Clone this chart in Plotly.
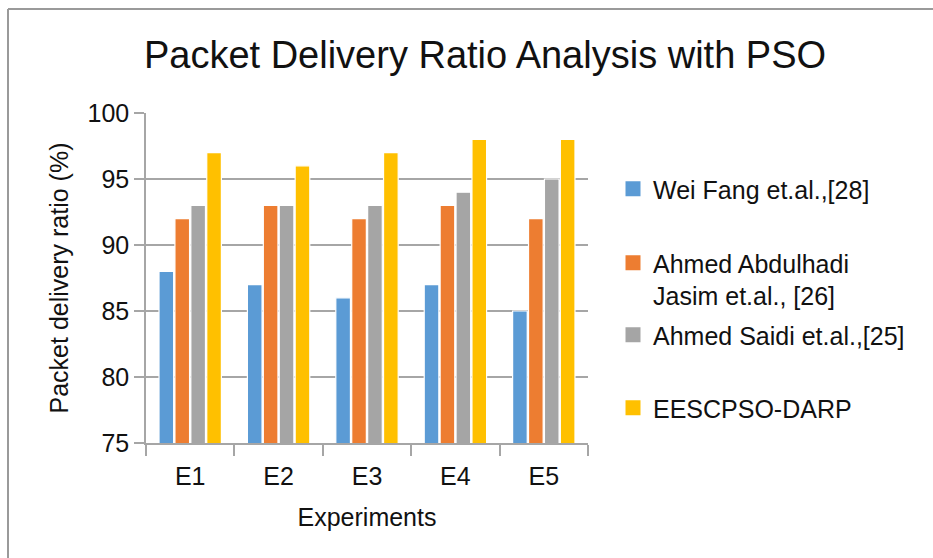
import plotly.graph_objects as go

# Experiment categories and packet delivery ratio (%) per method
experiments = ["E1", "E2", "E3", "E4", "E5"]
wei_fang = [88, 87, 86, 87, 85]
ahmed_abdulhadi = [92, 93, 92, 93, 92]
ahmed_saidi = [93, 93, 93, 94, 95]
eescpso_darp = [97, 96, 97, 98, 98]

series_names = [
    "Wei Fang et.al.,[28]",
    "Ahmed Abdulhadi<br>Jasim et.al., [26]",
    "Ahmed Saidi et.al.,[25]",
    "EESCPSO-DARP",
]
series_values = [wei_fang, ahmed_abdulhadi, ahmed_saidi, eescpso_darp]
series_colors = ["#5B9BD5", "#ED7D31", "#A5A5A5", "#FFC000"]
y_ticks = [75, 80, 85, 90, 95, 100]

W, H = 933, 558
L, R, T, B = 146, 588, 113, 443  # plot-area pixel box
FONT = "Liberation Sans, Arial, Helvetica, sans-serif"
TEXT = "#111111"
GRID = "#A6A6A6"

def px_x(x):
    return (x - L) / (R - L)

def px_y(y):
    return (B - y) / (B - T)

fig = go.Figure()
legend_ids = ["legend", "legend2", "legend3", "legend4"]
legend_centres = [190, 264, 336, 409]

for name, vals, color, lid in zip(series_names, series_values, series_colors, legend_ids):
    fig.add_trace(go.Bar(
        x=experiments, y=vals, name=name,
        marker=dict(color=color, line=dict(color="white", width=1.2)),
        showlegend=False,
    ))
    # square legend key for the series
    fig.add_trace(go.Scatter(
        x=[None], y=[None], mode="markers", name=name,
        marker=dict(symbol="square", size=15, color=color),
        legend=lid, showlegend=True, hoverinfo="skip",
    ))

layout_legends = {}
for lid, yc in zip(legend_ids, legend_centres):
    layout_legends[lid] = dict(
        x=px_x(613), xanchor="left",
        y=px_y(yc - 24), yanchor="top",
        bgcolor="rgba(0,0,0,0)",
        font=dict(family=FONT, size=25, color=TEXT),
        valign="top", itemwidth=30,
        tracegroupgap=0,
    )

fig.update_layout(
    width=W, height=H,
    margin=dict(l=L, r=W - R, t=T, b=H - B, pad=0),
    paper_bgcolor="white", plot_bgcolor="white",
    barmode="group", bargap=0.28, bargroupgap=0.08,
    showlegend=True,
    title=dict(
        text="Packet Delivery Ratio Analysis with PSO",
        x=485 / W, xanchor="center",
        y=1 - 55 / H, yanchor="middle", yref="container",
        font=dict(family=FONT, size=38, color=TEXT),
    ),
    xaxis=dict(
        title=dict(text="Experiments", font=dict(family=FONT, size=25, color=TEXT), standoff=20),
        tickfont=dict(family=FONT, size=25, color=TEXT),
        ticklabelstandoff=10,
        showline=True, linecolor=GRID, linewidth=1.5,
        ticks="outside", tickson="boundaries", ticklen=11, tickcolor=GRID, tickwidth=1.5,
        showgrid=False,
    ),
    yaxis=dict(
        title=dict(text="Packet delivery ratio (%)", font=dict(family=FONT, size=25, color=TEXT), standoff=12),
        tickfont=dict(family=FONT, size=25, color=TEXT),
        range=[75, 100], tickvals=y_ticks,
        showline=True, linecolor=GRID, linewidth=1.5,
        ticks="outside", ticklen=10, tickcolor=GRID, tickwidth=1.5,
        showgrid=True, gridcolor=GRID, gridwidth=1.5,
        zeroline=False,
    ),
    **layout_legends,
)

# Outer chart frame (top and left edges)
fig.add_shape(type="line", xref="paper", yref="paper",
              x0=px_x(8), x1=px_x(W + 5), y0=px_y(9), y1=px_y(9),
              line=dict(color="#9A9A9A", width=2))
fig.add_shape(type="line", xref="paper", yref="paper",
              x0=px_x(8), x1=px_x(8), y0=px_y(9), y1=px_y(H + 5),
              line=dict(color="#9A9A9A", width=2))

fig.write_html("out.html")
